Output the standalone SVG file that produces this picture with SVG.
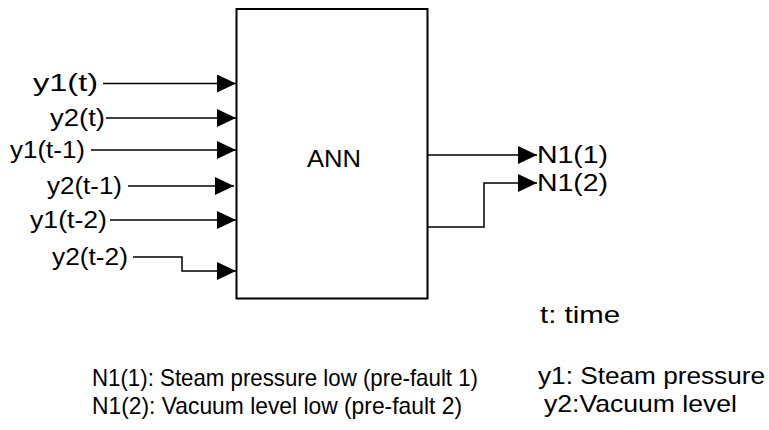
<svg xmlns="http://www.w3.org/2000/svg" width="769" height="430" viewBox="0 0 769 430">
<style>
text{font-family:"Liberation Sans",Arial,sans-serif;fill:#000;}
.lbl{font-size:23px;}
.note{font-size:24px;}
.wire{fill:none;stroke:#000;stroke-width:1.5;}
</style>
<defs>
<marker id="ah" markerWidth="19" markerHeight="18" refX="19" refY="9" orient="auto" markerUnits="userSpaceOnUse">
<path d="M0,0 L19,9 L0,18 Z" fill="#000"/>
</marker>
</defs>
<rect width="769" height="430" fill="#fff"/>
<g id="ann">
<rect x="236.5" y="9" width="191" height="289.5" fill="#fff" stroke="#000" stroke-width="2"/>
<text class="lbl" x="307" y="167" textLength="54" lengthAdjust="spacingAndGlyphs">ANN</text>
</g>
<g id="inputs">
<text class="lbl" x="33" y="91" textLength="65" lengthAdjust="spacingAndGlyphs">y1(t)</text>
<text class="lbl" x="50" y="126" textLength="55" lengthAdjust="spacingAndGlyphs">y2(t)</text>
<text class="lbl" x="10" y="158" textLength="75" lengthAdjust="spacingAndGlyphs">y1(t-1)</text>
<text class="lbl" x="47" y="194" textLength="75" lengthAdjust="spacingAndGlyphs">y2(t-1)</text>
<text class="lbl" x="30" y="228" textLength="77" lengthAdjust="spacingAndGlyphs">y1(t-2)</text>
<text class="lbl" x="52" y="265" textLength="76" lengthAdjust="spacingAndGlyphs">y2(t-2)</text>
</g>
<g id="outputs">
<text class="lbl" x="537" y="163" textLength="71" lengthAdjust="spacingAndGlyphs">N1(1)</text>
<text class="lbl" x="537" y="191" textLength="71" lengthAdjust="spacingAndGlyphs">N1(2)</text>
</g>
<g id="connectors">
<path class="wire" d="M103,83.5 H236" marker-end="url(#ah)"/>
<path class="wire" d="M106,118 H236" marker-end="url(#ah)"/>
<path class="wire" d="M91,150 H236" marker-end="url(#ah)"/>
<path class="wire" d="M128,186 H234" marker-end="url(#ah)"/>
<path class="wire" d="M110,220 H236" marker-end="url(#ah)"/>
<path class="wire" d="M133,257 H182 V271 H236" marker-end="url(#ah)"/>
<path class="wire" d="M428,155 H537" marker-end="url(#ah)"/>
<path class="wire" d="M428,227 H484 V183 H537" marker-end="url(#ah)"/>
</g>
<g id="legend">
<text class="note" x="540" y="323" textLength="80" lengthAdjust="spacingAndGlyphs">t: time</text>
<text class="note" x="92" y="386" textLength="386" lengthAdjust="spacingAndGlyphs">N1(1): Steam pressure low (pre-fault 1)</text>
<text class="note" x="92" y="414" textLength="370" lengthAdjust="spacingAndGlyphs">N1(2): Vacuum level low (pre-fault 2)</text>
<text class="note" x="538" y="384" textLength="227" lengthAdjust="spacingAndGlyphs">y1: Steam pressure</text>
<text class="note" x="544" y="412" textLength="193" lengthAdjust="spacingAndGlyphs">y2:Vacuum level</text>
</g>
</svg>
